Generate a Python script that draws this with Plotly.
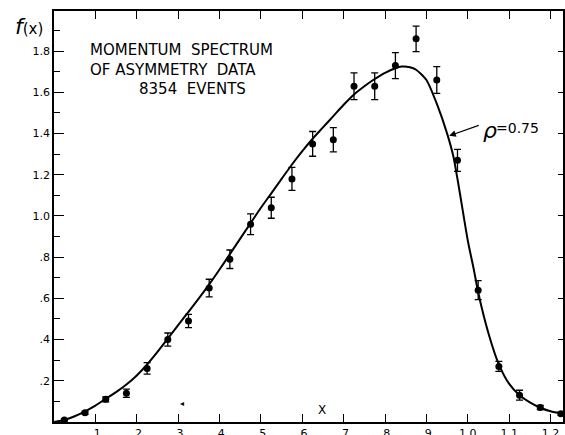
import plotly.graph_objects as go

# Data points (bin centres)
x_pts = [0.025, 0.075, 0.125, 0.175, 0.225, 0.275, 0.325, 0.375, 0.425, 0.475,
         0.525, 0.575, 0.625, 0.675, 0.725, 0.775, 0.825, 0.875, 0.925, 0.975,
         1.025, 1.075, 1.125, 1.175, 1.225]
y_pts = [0.01, 0.045, 0.11, 0.14, 0.26, 0.40, 0.49, 0.65, 0.79, 0.96,
         1.04, 1.18, 1.35, 1.37, 1.63, 1.63, 1.73, 1.86, 1.66, 1.27,
         0.64, 0.27, 0.13, 0.07, 0.04]
y_err = [0.004, 0.008, 0.012, 0.02, 0.028, 0.032, 0.032, 0.043, 0.045, 0.05,
         0.051, 0.056, 0.06, 0.059, 0.065, 0.065, 0.063, 0.062, 0.065, 0.053,
         0.046, 0.024, 0.024, 0.01, 0.008]

# Fitted curve (rho = 0.75)
curve_x = [0.0, 0.025, 0.05, 0.075, 0.1, 0.125, 0.15, 0.175, 0.2, 0.225, 0.25, 0.275,
           0.3, 0.325, 0.35, 0.375, 0.4, 0.425, 0.45, 0.475, 0.5, 0.525, 0.55, 0.575,
           0.6, 0.625, 0.65, 0.675, 0.7, 0.725, 0.75, 0.775, 0.8, 0.825, 0.84, 0.86,
           0.875, 0.9, 0.925, 0.95, 0.965, 0.975, 0.985, 1.0, 1.015, 1.025, 1.05,
           1.075, 1.1, 1.125, 1.15, 1.175, 1.2, 1.23]
curve_y = [0.0, 0.01, 0.028, 0.052, 0.08, 0.113, 0.145, 0.182, 0.226, 0.279, 0.34, 0.405,
           0.47, 0.535, 0.60, 0.668, 0.74, 0.815, 0.89, 0.965, 1.04, 1.11, 1.18, 1.25,
           1.315, 1.375, 1.43, 1.485, 1.54, 1.59, 1.63, 1.665, 1.695, 1.717, 1.725, 1.722,
           1.71, 1.66, 1.545, 1.40, 1.29, 1.18, 1.06, 0.88, 0.735, 0.63, 0.43,
           0.28, 0.185, 0.13, 0.095, 0.069, 0.052, 0.04]

x_tickvals = [0.1, 0.2, 0.3, 0.4, 0.5, 0.6, 0.7, 0.8, 0.9, 1.0, 1.1, 1.2]
x_ticktext = [".1", ".2", ".3", ".4", ".5", ".6", ".7", ".8", ".9", "1.0", "1.1", "1.2"]
y_tickvals = [0.2, 0.4, 0.6, 0.8, 1.0, 1.2, 1.4, 1.6, 1.8]
y_ticktext = [".2", ".4", ".6", ".8", "1.0", "1.2", "1.4", "1.6", "1.8"]
y_minorvals = [0.1, 0.3, 0.5, 0.7, 0.9, 1.1, 1.3, 1.5, 1.7, 1.9]

FONT = "DejaVu Sans"

fig = go.Figure()
fig.add_trace(go.Scatter(x=curve_x, y=curve_y, mode="lines",
                         line=dict(color="black", width=2, shape="spline", smoothing=0.6),
                         hoverinfo="skip", showlegend=False))
fig.add_trace(go.Scatter(x=x_pts, y=y_pts, mode="markers",
                         marker=dict(color="black", size=7),
                         error_y=dict(type="data", array=y_err, color="black",
                                      thickness=1.3, width=3.5),
                         showlegend=False))
# right-hand axis carrier (ticks only)
fig.add_trace(go.Scatter(x=[None], y=[None], yaxis="y2", showlegend=False, hoverinfo="skip"))

nb = "\u00a0"
ann = [
    dict(x=0.083, y=1.808, text="MOMENTUM" + nb + nb + "SPECTRUM", font=dict(size=15)),
    dict(x=0.083, y=1.711, text="OF" + nb + "ASYMMETRY" + nb + nb + "DATA", font=dict(size=15)),
    dict(x=0.2, y=1.614, text="8354" + nb + nb + "EVENTS", font=dict(size=15)),
    dict(x=0.648, y=0.058, text="X", font=dict(size=12), xanchor="center"),
    dict(x=1.032, y=1.417, text="<i>ρ</i>", font=dict(size=22)),
    dict(x=1.064, y=1.427, text="=0.75", font=dict(size=14)),
    dict(x=0.31, y=0.09, text="◂", font=dict(size=8), xanchor="center"),
]
annotations = []
for a in ann:
    d = dict(xref="x", yref="y", showarrow=False, xanchor="left", yanchor="middle",
             font=dict(family=FONT, color="black"))
    f = a.pop("font")
    d.update(a)
    d["font"].update(f)
    annotations.append(d)

# arrow pointing to the curve
annotations.append(dict(xref="x", yref="y", x=0.955, y=1.389, ax=31, ay=-11,
                        text="", showarrow=True, arrowhead=2, arrowsize=1.1,
                        arrowwidth=1.2, arrowcolor="black", standoff=0))
# f(x) axis title
annotations.append(dict(xref="paper", yref="paper", x=-0.08, y=0.962,
                        xanchor="left", yanchor="middle", showarrow=False,
                        text="<span style='font-size:22px'><i>f</i></span>(x)",
                        font=dict(family=FONT, size=15, color="black")))

fig.update_layout(
    width=565, height=435,
    margin=dict(l=54, r=2, t=11, b=13, autoexpand=False),
    paper_bgcolor="white", plot_bgcolor="white",
    font=dict(family=FONT, color="black", size=11),
    showlegend=False,
    annotations=annotations,
    xaxis=dict(range=[0, 1.23], tickvals=x_tickvals, ticktext=x_ticktext,
               ticks="inside", ticklen=8, tickwidth=1.3, tickcolor="black",
               showline=True, linecolor="black", linewidth=1.5, mirror="ticks",
               showgrid=False, zeroline=False, tickfont=dict(size=11, family=FONT)),
    yaxis=dict(range=[0, 1.995], tickvals=y_tickvals, ticktext=y_ticktext,
               ticks="inside", ticklen=10, tickwidth=1.3, tickcolor="black",
               showline=True, linecolor="black", linewidth=1.5,
               showgrid=False, zeroline=False, tickfont=dict(size=11, family=FONT),
               minor=dict(tickvals=y_minorvals,
                          ticks="inside", ticklen=6, tickwidth=1.2, tickcolor="black",
                          showgrid=False)),
    yaxis2=dict(range=[0, 1.995], overlaying="y", side="right", tickvals=y_tickvals,
                ticks="inside", ticklen=5, tickwidth=1.3, tickcolor="black",
                showticklabels=False, showline=True, linecolor="black", linewidth=1.5,
                showgrid=False, zeroline=False),
)

fig.write_html("out.html", config={"displayModeBar": False},
               post_script="document.body.style.margin='0';document.body.style.overflow='hidden';")
